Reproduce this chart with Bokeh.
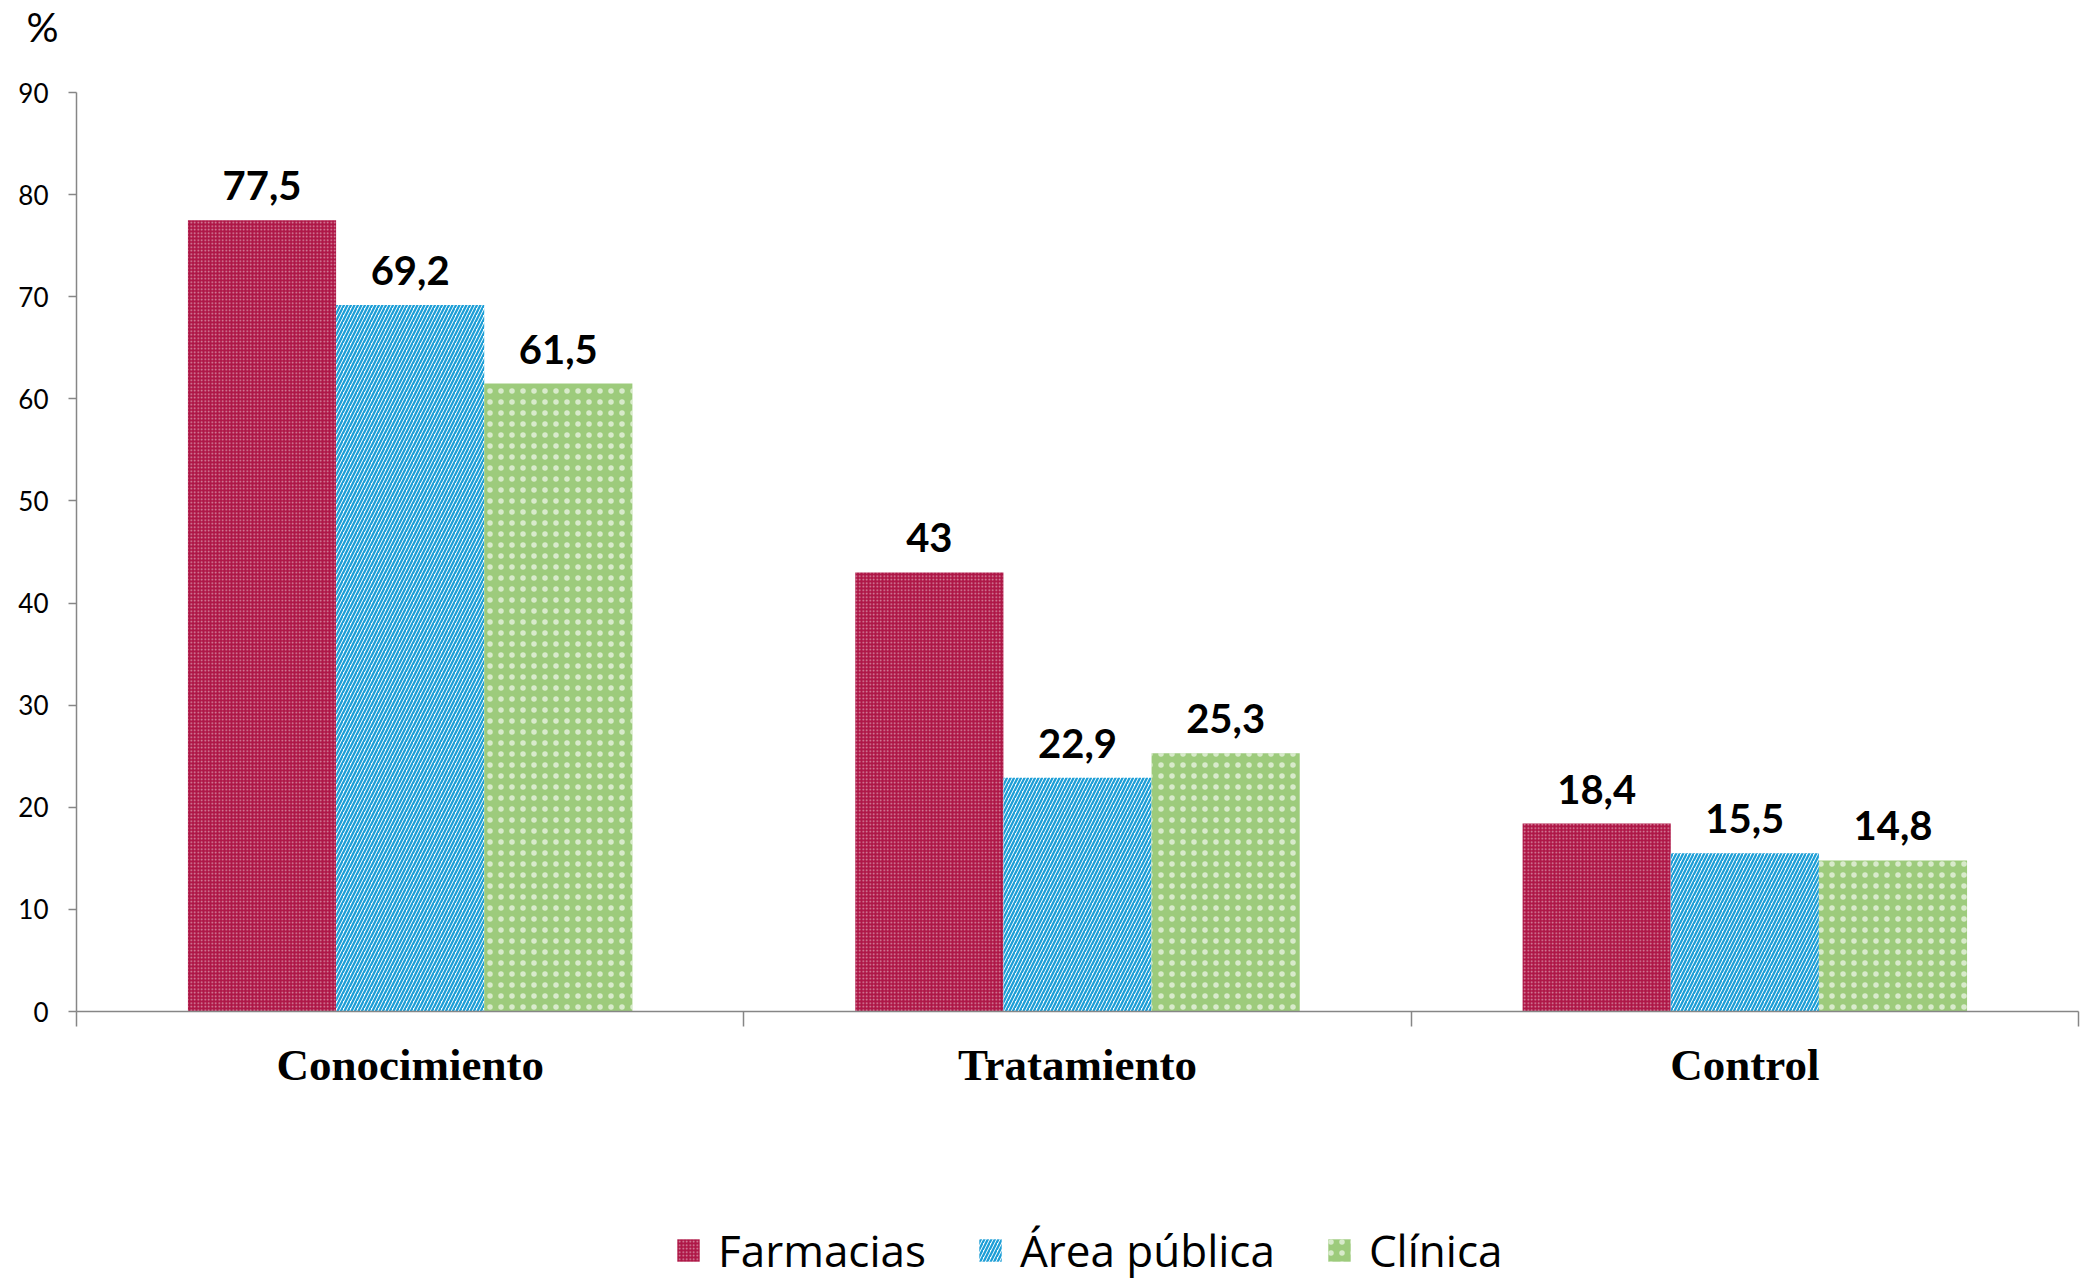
import numpy as np
from bokeh.plotting import figure
from bokeh.models import (
    ColumnDataSource,
    FixedTicker,
    Label,
    LabelSet,
    Legend,
    LegendItem,
    LinearAxis,
    Range1d,
)
from bokeh.core.properties import value
from bokeh.transform import dodge
from bokeh.embed import file_html
from bokeh.resources import INLINE

categories = ["Conocimiento", "Tratamiento", "Control"]
farmacias = [77.5, 43, 18.4]
area_publica = [69.2, 22.9, 15.5]
clinica = [61.5, 25.3, 14.8]
series_names = ["Farmacias", "Área pública", "Clínica"]
y_ticks = [0, 10, 20, 30, 40, 50, 60, 70, 80, 90]

AXIS_GREY = "#868686"

# page size and where the axes box should sit on it (pixels)
W, H = 2091, 1280
AX_LEFT, AX_RIGHT = 76, 2078
AX_TOP, AX_BOTTOM = 92, 1011


def fmt(v):
    return f"{v:g}".replace(".", ",")


n = len(categories)
cat_x = np.arange(1, n + 1)
data = {"x": cat_x}
for key, vals in (("farm", farmacias), ("area", area_publica), ("clin", clinica)):
    data[key] = vals
    data[key + "_lbl"] = [fmt(v) for v in vals]
source = ColumnDataSource(data)

# the frame fills the whole canvas; axes are pinned inside it
px_x = (AX_RIGHT - AX_LEFT) / n
px_y = (AX_BOTTOM - AX_TOP) / y_ticks[-1]
x_range = Range1d(0.5 - AX_LEFT / px_x, n + 0.5 + (W - AX_RIGHT) / px_x)
y_range = Range1d(-(H - AX_BOTTOM) / px_y, y_ticks[-1] + AX_TOP / px_y)

p = figure(
    width=W,
    height=H,
    x_range=x_range,
    y_range=y_range,
    x_axis_location=None,
    y_axis_location=None,
    title_location=None,
    toolbar_location=None,
    tools="",
    output_backend="svg",
    min_border=0,
)
p.outline_line_color = None
p.xgrid.visible = False
p.ygrid.visible = False

yaxis = LinearAxis(
    fixed_location=0.5,
    bounds=(0, y_ticks[-1]),
    ticker=FixedTicker(ticks=y_ticks, minor_ticks=[]),
)
yaxis.axis_line_color = AXIS_GREY
yaxis.axis_line_width = 1.5
yaxis.major_tick_line_color = AXIS_GREY
yaxis.major_tick_line_width = 1.5
yaxis.major_tick_out = 8
yaxis.major_tick_in = 0
yaxis.major_label_standoff = 20
yaxis.major_label_text_font = "Lato"
yaxis.major_label_text_font_size = "26px"
yaxis.major_label_text_color = "#000000"
p.add_layout(yaxis, "left")

# category axis: labels at centres, small ticks at the boundaries
bounds = list(cat_x - 0.5) + [cat_x[-1] + 0.5]
xaxis = LinearAxis(
    fixed_location=0,
    bounds=(bounds[0], bounds[-1]),
    ticker=FixedTicker(ticks=list(cat_x), minor_ticks=bounds),
    major_label_overrides={int(x): c for x, c in zip(cat_x, categories)},
)
xaxis.axis_line_color = AXIS_GREY
xaxis.axis_line_width = 1.5
xaxis.major_tick_line_color = None
xaxis.major_tick_out = 0
xaxis.minor_tick_line_color = AXIS_GREY
xaxis.minor_tick_line_width = 1.5
xaxis.minor_tick_out = 15
xaxis.minor_tick_in = 0
xaxis.major_label_standoff = 13
xaxis.major_label_text_font = "Liberation Serif"
xaxis.major_label_text_font_style = "bold"
xaxis.major_label_text_font_size = "45px"
xaxis.major_label_text_color = "#000000"
p.add_layout(xaxis, "below")

bar_w = 0.222
styles = [
    ("farm", -bar_w, dict(fill_color="#AE1646", hatch_pattern="dot",
                          hatch_color="white", hatch_scale=3.5,
                          hatch_weight=1.2, hatch_alpha=0.55)),
    ("area", 0.0, dict(fill_color="white", hatch_pattern="right_diagonal_line",
                       hatch_color="#1C9ED6", hatch_scale=7,
                       hatch_weight=2.3)),
    ("clin", bar_w, dict(fill_color="#9DCB7C", hatch_pattern="dot",
                         hatch_color="white", hatch_scale=11,
                         hatch_weight=0.3, hatch_alpha=0.6)),
]

items = []
for (key, off, style), name in zip(styles, series_names):
    r = p.vbar(
        x=dodge("x", off),
        top=key,
        width=bar_w,
        source=source,
        line_color=None,
        **style,
    )
    items.append(LegendItem(label=name, renderers=[r]))
    labels = LabelSet(
        x=dodge("x", off),
        y=key,
        text=key + "_lbl",
        source=source,
        text_align="center",
        text_baseline="alphabetic",
        y_offset=20,
        text_font=value("Lato"),
        text_font_style="bold",
        text_font_size="40px",
        text_color="#000000",
    )
    p.add_layout(labels)

pct = Label(
    x=x_range.start,
    y=y_ticks[-1],
    text="%",
    x_offset=42,
    y_offset=66,
    text_align="center",
    text_baseline="middle",
    text_font="Lato",
    text_font_size="40px",
    text_color="#000000",
)
p.add_layout(pct)

legend = Legend(
    items=items,
    orientation="horizontal",
    location=(674, 0),
    padding=0,
    spacing=50,
    label_standoff=16,
    glyph_width=28,
    glyph_height=28,
    label_text_font="Open Sans",
    label_text_font_size="44px",
    label_text_color="#000000",
    border_line_color=None,
    background_fill_alpha=0,
)
p.add_layout(legend, "center")

open("out.html", "w").write(file_html(p, INLINE))
